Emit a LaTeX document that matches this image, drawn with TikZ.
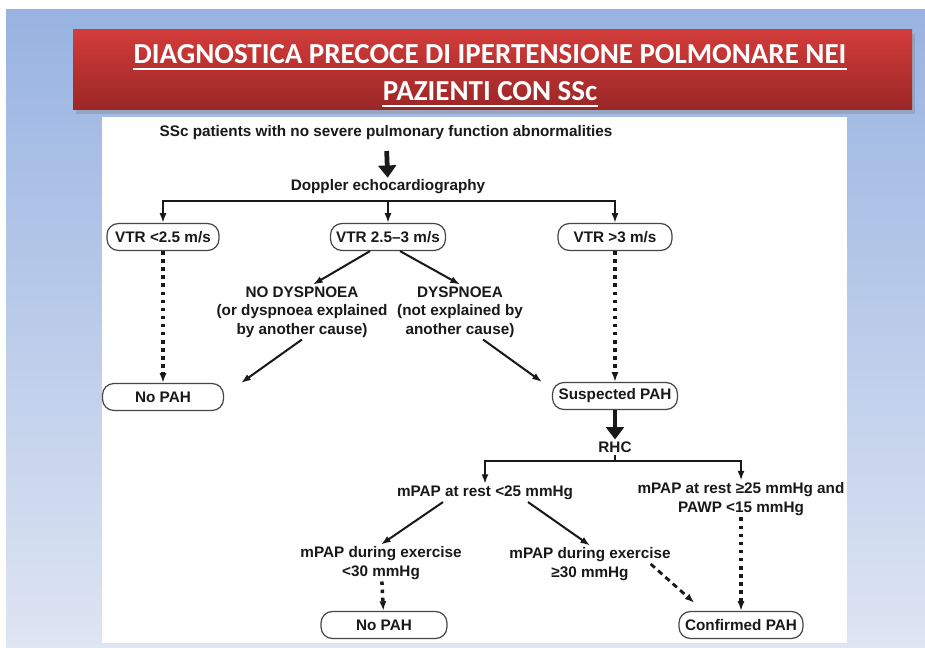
\documentclass[tikz,border=0pt]{standalone}
\usepackage{fontspec}
\setmainfont{Liberation Sans}
\newfontfamily\titlefont{Carlito}
\usetikzlibrary{arrows.meta, shadows}
\definecolor{slideblue}{RGB}{152, 179, 225}
\definecolor{slidelight}{RGB}{222, 229, 243}
\definecolor{bannertop}{RGB}{210, 60, 58}
\definecolor{bannerbot}{RGB}{155, 38, 38}
\definecolor{ink}{RGB}{25, 25, 25}

\begin{document}
\begin{tikzpicture}[x=0.02cm, y=-0.02cm,
  txt/.style={font=\fontsize{8.7}{10.5}\selectfont\bfseries, text=ink, inner sep=1pt, align=center},
  box/.style={txt, draw=ink!80, line width=0.7pt, rounded corners=6.5pt, minimum height=0.54cm, inner sep=0pt},
  titletxt/.style={font=\titlefont\bfseries\fontsize{16.5}{18}\selectfont, text=white, inner sep=0pt},
  arr/.style={-{Latex[length=5.5pt, width=4pt]}, line width=1.15pt, ink},
  bigarr/.style={-{Triangle[length=7pt, width=10pt]}, line width=2.7pt, ink},
  dotarr/.style={arr, line width=2pt, dash pattern=on 2pt off 2.6pt},
  dasharr/.style={arr, line width=1.6pt, dash pattern=on 3.2pt off 2.4pt}]
  \useasboundingbox (0,0) rectangle (925,648);

  % ===== 背景 =====
  \fill[white] (0,0) rectangle (925,648);
  \shade[top color=slideblue, bottom color=slidelight] (6,10) rectangle (925,648);
  \fill[white] (102,117) rectangle (847,643);

  % 标题栏
  \path[drop shadow={opacity=0.35, shadow xshift=1.5pt, shadow yshift=-2pt},
        top color=bannertop, bottom color=bannerbot] (73,30) rectangle (912,110);
  \node[titletxt] (titleA) at (490,54) {DIAGNOSTICA PRECOCE DI IPERTENSIONE POLMONARE NEI};
  \node[titletxt] (titleB) at (490,91) {PAZIENTI CON SSc};
  \draw[white, line width=1pt] ([yshift=-0.1cm]titleA.south west) -- ([yshift=-0.1cm]titleA.south east);
  \draw[white, line width=1pt] ([yshift=-0.1cm]titleB.south west) -- ([yshift=-0.1cm]titleB.south east);

  % ===== 上半部分：超声 =====
  \node[txt] (ssc) at (386,133) {SSc patients with no severe pulmonary function abnormalities};
  \node[txt] (doppler) at (388,187) {Doppler echocardiography};

  \node[box, minimum width=2.24cm] (vtrlow) at (163,237) {VTR <2.5 m/s};
  \node[box, minimum width=2.3cm] (vtrmid) at (388,237) {VTR 2.5--3 m/s};
  \node[box, minimum width=2.28cm] (vtrhigh) at (615,237) {VTR >3 m/s};

  \node[txt] (nodysp) at (302,312) {NO DYSPNOEA\\(or dyspnoea explained\\by another cause)};
  \node[txt] (dysp) at (460,312) {DYSPNOEA\\(not explained by\\another cause)};

  \node[box, minimum width=2.42cm] (nopahA) at (163,397) {No PAH};
  \node[box, minimum width=2.5cm] (suspected) at (615,396) {Suspected PAH};

  % ===== 下半部分：右心导管 =====
  \node[txt] (rhc) at (615,447) {RHC};
  \node[txt] (restlow) at (485,493) {mPAP at rest <25 mmHg};
  \node[txt] (resthigh) at (741,499) {mPAP at rest ≥25 mmHg and\\PAWP <15 mmHg};
  \node[txt] (exlow) at (381,563) {mPAP during exercise\\<30 mmHg};
  \node[txt] (exhigh) at (590,564) {mPAP during exercise\\≥30 mmHg};

  \node[box, minimum width=2.52cm] (nopahB) at (384,625) {No PAH};
  \node[box, minimum width=2.48cm] (confirmed) at (741,625) {Confirmed PAH};

  % 连接
  \draw[bigarr, shorten <=5pt] (ssc) -- (doppler);
  \coordinate (echobar) at (388,201);
  \draw[arr] (echobar) -| (vtrlow);
  \draw[arr] (echobar) -- (vtrmid);
  \draw[arr] (echobar) -| (vtrhigh);

  \draw[dotarr] (vtrlow) -- (nopahA);
  \draw[arr] ([xshift=-0.36cm]vtrmid.south) -- ([xshift=0.22cm]nodysp.north);
  \draw[arr] ([xshift=0.24cm]vtrmid.south) -- (dysp.north);
  \draw[arr] (nodysp.south) -- ([xshift=0.34cm]nopahA.north east);
  \draw[arr] ([xshift=0.46cm]dysp.south) -- ([xshift=-0.2cm]suspected.north west);
  \draw[dotarr] (vtrhigh) -- (suspected);

  \draw[bigarr] (suspected) -- (rhc);
  \coordinate (rhcbar) at (615,461);
  \draw[arr] (rhc.south) -- (rhcbar) -| (restlow);
  \draw[arr] (rhcbar) -| (resthigh);

  \draw[arr] ([xshift=-0.84cm]restlow.south) -- (exlow.north);
  \draw[arr] ([xshift=0.86cm]restlow.south) -- (exhigh.north);
  \draw[dotarr] (exlow) -- (nopahB);
  \draw[dasharr] ([xshift=-0.44cm]exhigh.east) -- ([xshift=0.32cm, yshift=0.16cm]confirmed.north west);
  \draw[dotarr] (resthigh) -- (confirmed);
\end{tikzpicture}
\end{document}
